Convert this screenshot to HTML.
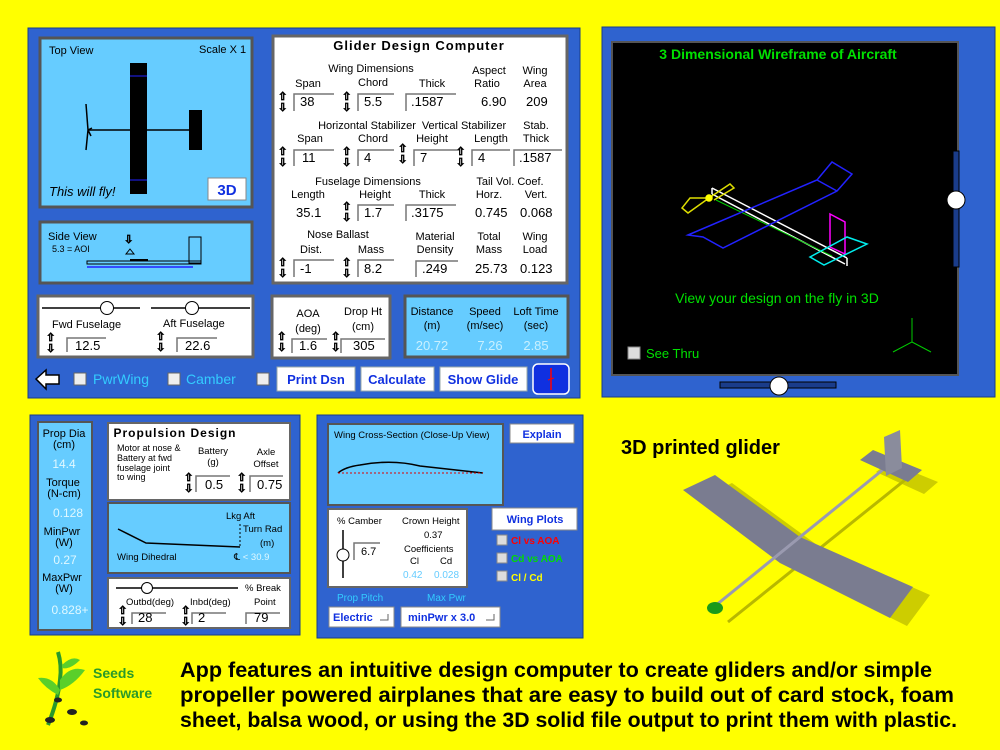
<!DOCTYPE html>
<html><head><meta charset="utf-8"><style>
html,body{margin:0;padding:0;background:#ffff00;}
svg{display:block;font-family:"Liberation Sans",sans-serif;}
.s{font-size:11px;fill:#000}
.v{font-size:13px;fill:#000}
.w{font-size:13px;fill:#c8f0ff}
.ar{font-family:"DejaVu Sans",sans-serif;font-size:11px;fill:#fff;stroke:#000;stroke-width:0.8}
.btn{fill:#fff;stroke:#9aa;stroke-width:1}
.bt{font-size:13px;font-weight:bold;fill:#1030e0}
</style></head><body>
<svg width="1000" height="750" viewBox="0 0 1000 750">
<defs>
<g id="ud"><text class="ar" x="0" y="0">⇧</text><text class="ar" x="0" y="11">⇩</text></g>
</defs>
<rect width="1000" height="750" fill="#ffff00"/>

<!-- MAIN PANEL -->
<rect x="28" y="28" width="552" height="370" fill="#2f63cf" stroke="#1a3c8a"/>
<rect x="40" y="38" width="212" height="169" fill="#66ccff" stroke="#555" stroke-width="3"/>
<text class="s" x="49" y="54">Top View</text>
<text class="s" x="199" y="53">Scale X 1</text>
<rect x="130" y="63" width="17" height="131" fill="#000"/>
<line x1="130" y1="76" x2="147" y2="76" stroke="#22f"/><line x1="130" y1="180" x2="147" y2="180" stroke="#22f"/>
<line x1="89" y1="130" x2="190" y2="130" stroke="#000" stroke-width="1.5"/>
<rect x="189" y="110" width="13" height="40" fill="#000"/>
<path d="M86 104 L88 130 L86 150 M88 130 L92 128 M88 130 L91 136" stroke="#000" fill="none" stroke-width="1.5"/>
<text x="49" y="196" style="font-size:13px;font-style:italic">This will fly!</text>
<rect x="208" y="178" width="38" height="22" fill="#fff" stroke="#888"/>
<text x="227" y="195" text-anchor="middle" style="font-size:15px;font-weight:bold;fill:#1030e0">3D</text>
<rect x="40" y="222" width="212" height="61" fill="#66ccff" stroke="#555" stroke-width="3"/>
<text class="s" x="48" y="240">Side View</text>
<text x="52" y="252" style="font-size:9px">5.3 = AOI</text>
<text x="124" y="243" class="ar">⇩</text>
<path d="M130 249 L134 254 L126 254Z" fill="none" stroke="#000"/>
<rect x="189" y="237" width="12" height="26" fill="none" stroke="#000"/>
<rect x="87" y="261" width="114" height="3" fill="none" stroke="#000"/>
<line x1="130" y1="260" x2="148" y2="260" stroke="#000" stroke-width="2"/>
<line x1="87" y1="267" x2="193" y2="267" stroke="#22f" stroke-width="1.5"/>
<!-- glider computer -->
<rect x="273" y="36" width="294" height="247" fill="#fff" stroke="#666" stroke-width="3"/>
<text x="419" y="50" text-anchor="middle" style="font-size:13px;font-weight:bold;letter-spacing:1px">Glider Design Computer</text>
<g class="s" text-anchor="middle">
<text x="371" y="72">Wing Dimensions</text><text x="489" y="74">Aspect</text><text x="535" y="74">Wing</text>
<text x="308" y="87">Span</text><text x="373" y="86">Chord</text><text x="432" y="87">Thick</text><text x="487" y="87">Ratio</text><text x="535" y="87">Area</text>
<text x="367" y="129">Horizontal Stabilizer</text><text x="464" y="129">Vertical Stabilizer</text><text x="536" y="129">Stab.</text>
<text x="310" y="142">Span</text><text x="373" y="142">Chord</text><text x="432" y="142">Height</text><text x="491" y="142">Length</text><text x="536" y="142">Thick</text>
<text x="368" y="185">Fuselage Dimensions</text><text x="510" y="185">Tail Vol. Coef.</text>
<text x="308" y="198">Length</text><text x="375" y="198">Height</text><text x="432" y="198">Thick</text><text x="489" y="198">Horz.</text><text x="536" y="198">Vert.</text>
<text x="338" y="238">Nose Ballast</text><text x="435" y="240">Material</text><text x="489" y="240">Total</text><text x="535" y="240">Wing</text>
<text x="311" y="253">Dist.</text><text x="371" y="253">Mass</text><text x="435" y="253">Density</text><text x="489" y="253">Mass</text><text x="535" y="253">Load</text>
</g>
<g fill="none" stroke="#777" stroke-width="1.5">
<path d="M294 111V94H334"/><path d="M358 111V94H394"/><path d="M406 111V94H456"/>
<path d="M294 166V150H334"/><path d="M358 166V150H394"/><path d="M414 166V150H460"/><path d="M472 166V150H510"/><path d="M514 166V150H562"/>
<path d="M358 221V205H394"/><path d="M406 221V205H456"/>
<path d="M294 277V260H334"/><path d="M358 277V260H394"/><path d="M416 277V261H458"/>
</g>
<use href="#ud" x="278" y="100"/><use href="#ud" x="342" y="100"/>
<use href="#ud" x="278" y="155"/><use href="#ud" x="342" y="155"/><use href="#ud" x="398" y="152"/><use href="#ud" x="456" y="155"/>
<use href="#ud" x="342" y="210"/>
<use href="#ud" x="278" y="266"/><use href="#ud" x="342" y="266"/>
<g class="v">
<text x="300" y="106">38</text><text x="364" y="106">5.5</text><text x="411" y="106">.1587</text><text x="481" y="106">6.90</text><text x="526" y="106">209</text>
<text x="302" y="162">11</text><text x="364" y="162">4</text><text x="420" y="162">7</text><text x="478" y="162">4</text><text x="519" y="162">.1587</text>
<text x="296" y="217">35.1</text><text x="364" y="217">1.7</text><text x="411" y="217">.3175</text><text x="475" y="217">0.745</text><text x="520" y="217">0.068</text>
<text x="300" y="273">-1</text><text x="364" y="273">8.2</text><text x="422" y="273">.249</text><text x="475" y="273">25.73</text><text x="520" y="273">0.123</text>
</g>
<!-- sliders panel -->
<rect x="38" y="296" width="215" height="61" fill="#fff" stroke="#666" stroke-width="3"/>
<line x1="42" y1="308" x2="140" y2="308" stroke="#000" stroke-width="1.5"/><line x1="151" y1="308" x2="250" y2="308" stroke="#000" stroke-width="1.5"/>
<circle cx="107" cy="308" r="6.5" fill="#fff" stroke="#000"/><circle cx="192" cy="308" r="6.5" fill="#fff" stroke="#000"/>
<text class="s" x="52" y="328">Fwd Fuselage</text><text class="s" x="163" y="327">Aft Fuselage</text>
<path d="M67 352V338H106M177 352V338H217" fill="none" stroke="#777" stroke-width="1.5"/>
<use href="#ud" x="46" y="341"/><use href="#ud" x="156" y="340"/>
<text class="v" x="75" y="350">12.5</text><text class="v" x="185" y="350">22.6</text>
<rect x="272" y="296" width="118" height="62" fill="#fff" stroke="#666" stroke-width="3"/>
<g class="s" text-anchor="middle"><text x="308" y="317">AOA</text><text x="308" y="332">(deg)</text><text x="363" y="315">Drop Ht</text><text x="363" y="330">(cm)</text></g>
<path d="M292 353V339H327M341 353V339H385" fill="none" stroke="#777" stroke-width="1.5"/>
<use href="#ud" x="277" y="340"/><use href="#ud" x="331" y="340"/>
<text class="v" x="299" y="350">1.6</text><text class="v" x="353" y="350">305</text>
<rect x="405" y="296" width="163" height="61" fill="#66ccff" stroke="#555" stroke-width="3"/>
<g class="s" text-anchor="middle"><text x="432" y="315">Distance</text><text x="432" y="329">(m)</text><text x="485" y="315">Speed</text><text x="485" y="329">(m/sec)</text><text x="536" y="315">Loft Time</text><text x="536" y="329">(sec)</text></g>
<g class="w" text-anchor="middle"><text x="432" y="350">20.72</text><text x="490" y="350">7.26</text><text x="536" y="350">2.85</text></g>
<path d="M36 379 L46 370 V375 H59 V384 H46 V389 Z" fill="#fff" stroke="#000" stroke-width="1.5"/>
<rect x="74" y="373" width="12" height="12" fill="#eee" stroke="#666"/><text x="93" y="384" style="font-size:14px;fill:#33ccff">PwrWing</text>
<rect x="168" y="373" width="12" height="12" fill="#eee" stroke="#666"/><text x="186" y="384" style="font-size:14px;fill:#33ccff">Camber</text>
<rect x="257" y="373" width="12" height="12" fill="#eee" stroke="#666"/>
<rect x="277" y="367" width="78" height="24" class="btn"/><text class="bt" x="316" y="384" text-anchor="middle">Print Dsn</text>
<rect x="361" y="367" width="73" height="24" class="btn"/><text class="bt" x="397" y="384" text-anchor="middle">Calculate</text>
<rect x="440" y="367" width="87" height="24" class="btn"/><text class="bt" x="483" y="384" text-anchor="middle">Show Glide</text>
<rect x="533" y="364" width="36" height="30" rx="5" fill="#1030e0" stroke="#fff" stroke-width="1.5"/>
<line x1="551" y1="368" x2="551" y2="390" stroke="#f00" stroke-width="1.5"/><line x1="548" y1="380" x2="554" y2="378" stroke="#f00"/>

<!-- 3D PANEL -->
<rect x="602" y="27" width="393" height="370" fill="#2f63cf" stroke="#1a3c8a"/>
<rect x="612" y="42" width="346" height="333" fill="#000" stroke="#555" stroke-width="2"/>
<text x="778" y="59" text-anchor="middle" style="font-size:14px;font-weight:bold;fill:#00e000">3 Dimensional Wireframe of Aircraft</text>
<rect x="953" y="151" width="6" height="116" fill="#1a3c8a" stroke="#000"/>
<circle cx="956" cy="200" r="9" fill="#fff" stroke="#000"/>
<rect x="720" y="382" width="116" height="6" fill="#1a3c8a" stroke="#000"/>
<circle cx="779" cy="386" r="9" fill="#fff" stroke="#000"/>
<g fill="none" stroke-width="1.5">
<path d="M712 188 L847 258 M712 194 L845 264 M712 188 V194 M847 258 V266" stroke="#fff"/>
<path d="M716 200 L832 256" stroke="#0c0" stroke-width="1"/>
<path d="M709 198 L690 198 L682 208 L688 213 Z M709 198 L730 184 L734 188 L714 200" stroke="#dd0"/>
<circle cx="709" cy="198" r="3" fill="#ff0" stroke="#ff0"/>
<path d="M688 235 L817 180 L832 162 L852 174 L837 191 L723 248 L703 237 Z M703 237 L688 235 M817 180 L837 191" stroke="#22f"/>
<path d="M830 214 L845 222 V254 L830 247 Z" stroke="#f0f"/>
<path d="M810 257 L847 237 L867 244 L824 265 Z" stroke="#0ee"/>
</g>
<text x="777" y="303" text-anchor="middle" style="font-size:14px;fill:#00e000">View your design on the fly in 3D</text>
<rect x="628" y="347" width="12" height="12" fill="#ddd" stroke="#888"/>
<text x="646" y="358" style="font-size:13px;fill:#00e000">See Thru</text>
<path d="M912 318 V342 L893 352 M912 342 L931 352" stroke="#0c0" fill="none"/>

<!-- BOTTOM LEFT PANEL -->
<rect x="30" y="415" width="270" height="220" fill="#2f63cf" stroke="#1a3c8a"/>
<rect x="38" y="422" width="54" height="208" fill="#66ccff" stroke="#555" stroke-width="2"/>
<g style="font-size:11px" text-anchor="middle">
<text x="64" y="437">Prop Dia</text><text x="64" y="448">(cm)</text>
<text x="64" y="468" style="font-size:12px;fill:#e0f8ff">14.4</text>
<text x="63" y="486">Torque</text><text x="64" y="497">(N-cm)</text>
<text x="68" y="517" style="font-size:12px;fill:#e0f8ff">0.128</text>
<text x="62" y="535">MinPwr</text><text x="64" y="546">(W)</text>
<text x="65" y="564" style="font-size:12px;fill:#e0f8ff">0.27</text>
<text x="62" y="581">MaxPwr</text><text x="64" y="592">(W)</text>
<text x="70" y="614" style="font-size:12px;fill:#e0f8ff">0.828+</text>
</g>
<rect x="108" y="423" width="182" height="77" fill="#fff" stroke="#666" stroke-width="2"/>
<text x="175" y="437" text-anchor="middle" style="font-size:12px;font-weight:bold;letter-spacing:1px">Propulsion Design</text>
<g style="font-size:9px"><text x="117" y="451">Motor at nose &amp;</text><text x="117" y="461">Battery at fwd</text><text x="117" y="471">fuselage joint</text><text x="117" y="480">to wing</text></g>
<g style="font-size:9.5px" text-anchor="middle"><text x="213" y="454">Battery</text><text x="213" y="465">(g)</text><text x="266" y="455">Axle</text><text x="266" y="467">Offset</text></g>
<path d="M196 492V476H230M250 492V476H283" fill="none" stroke="#777" stroke-width="1.5"/>
<use href="#ud" x="184" y="481"/><use href="#ud" x="237" y="481"/>
<text class="v" x="205" y="489">0.5</text><text class="v" x="257" y="489">0.75</text>
<rect x="108" y="503" width="182" height="70" fill="#66ccff" stroke="#555" stroke-width="2"/>
<path d="M118 529 L146 543 L240 547" fill="none" stroke="#000" stroke-width="1.5"/>
<line x1="240" y1="524" x2="240" y2="547" stroke="#000" stroke-dasharray="2,2"/>
<g style="font-size:9.5px"><text x="226" y="519">Lkg Aft</text><text x="243" y="532">Turn Rad</text><text x="260" y="546">(m)</text><text x="117" y="560">Wing Dihedral</text><text x="234" y="560">℄ <tspan style="fill:#e0f8ff">&lt; 30.9</tspan></text></g>
<rect x="108" y="578" width="182" height="50" fill="#fff" stroke="#666" stroke-width="2"/>
<line x1="116" y1="588" x2="238" y2="588" stroke="#000" stroke-width="1.5"/><circle cx="147" cy="588" r="5.5" fill="#fff" stroke="#000"/>
<g style="font-size:9.5px"><text x="245" y="591">% Break</text><text x="126" y="605">Outbd(deg)</text><text x="190" y="605">Inbd(deg)</text><text x="254" y="605">Point</text></g>
<path d="M132 624V613H166M192 624V613H226M246 624V613H280" fill="none" stroke="#777" stroke-width="1.5"/>
<use href="#ud" x="118" y="614"/><use href="#ud" x="181" y="614"/>
<text class="v" x="138" y="622">28</text><text class="v" x="198" y="622">2</text><text class="v" x="254" y="622">79</text>

<!-- MIDDLE PANEL -->
<rect x="317" y="415" width="266" height="223" fill="#2f63cf" stroke="#1a3c8a"/>
<rect x="328" y="424" width="175" height="81" fill="#66ccff" stroke="#555" stroke-width="2"/>
<text x="334" y="438" style="font-size:9.5px">Wing Cross-Section (Close-Up View)</text>
<path d="M338 473 Q345 467 360 465 Q392 459 420 466 Q455 470 483 473" fill="none" stroke="#000" stroke-width="1.5"/>
<line x1="338" y1="473" x2="483" y2="473" stroke="#d00" stroke-dasharray="2,2"/>
<rect x="510" y="424" width="64" height="19" fill="#fff" stroke="#888"/>
<text x="542" y="438" text-anchor="middle" style="font-size:11px;font-weight:bold;fill:#1030e0">Explain</text>
<rect x="328" y="509" width="139" height="78" fill="#fff" stroke="#666" stroke-width="2"/>
<g style="font-size:9.5px"><text x="337" y="524">% Camber</text><text x="402" y="524">Crown Height</text><text x="424" y="538">0.37</text><text x="404" y="552">Coefficients</text><text x="410" y="564">Cl</text><text x="440" y="564">Cd</text></g>
<text x="403" y="578" style="font-size:10px;fill:#66ccff">0.42</text><text x="434" y="578" style="font-size:10px;fill:#66ccff">0.028</text>
<line x1="343" y1="530" x2="343" y2="578" stroke="#000" stroke-width="1.5"/><circle cx="343" cy="555" r="6" fill="#fff" stroke="#000"/>
<path d="M354 560V543H380" fill="none" stroke="#777" stroke-width="1.5"/>
<text x="361" y="555" style="font-size:11px">6.7</text>
<rect x="492" y="508" width="85" height="22" fill="#fff" stroke="#888"/>
<text x="535" y="523" text-anchor="middle" style="font-size:11px;font-weight:bold;fill:#1030e0">Wing Plots</text>
<g style="font-size:10px;font-weight:bold">
<rect x="497" y="535" width="10" height="10" fill="#ddd" stroke="#888"/><text x="511" y="544" fill="#f00">Cl vs AOA</text>
<rect x="497" y="553" width="10" height="10" fill="#ddd" stroke="#888"/><text x="511" y="562" fill="#0d0">Cd vs AOA</text>
<rect x="497" y="571" width="10" height="10" fill="#ddd" stroke="#888"/><text x="511" y="581" fill="#ff0">Cl / Cd</text>
</g>
<text x="337" y="601" style="font-size:10px;fill:#33ccff">Prop Pitch</text><text x="427" y="601" style="font-size:10px;fill:#33ccff">Max Pwr</text>
<rect x="329" y="607" width="65" height="20" fill="#fff" stroke="#888"/><text x="333" y="621" style="font-size:11px;font-weight:bold;fill:#1030e0">Electric</text>
<path d="M380 620H388V614" fill="none" stroke="#666"/>
<rect x="401" y="607" width="99" height="20" fill="#fff" stroke="#888"/><text x="408" y="621" style="font-size:11px;font-weight:bold;fill:#1030e0">minPwr x 3.0</text>
<path d="M486 620H494V614" fill="none" stroke="#666"/>

<!-- 3D printed glider -->
<text x="621" y="454" style="font-size:20px;font-weight:bold">3D printed glider</text>
<g>
<path d="M700 498 L732 483 L817 545 L930 595 L907 626 L797 571 Z" fill="#b8b800" opacity="0.7"/>
<line x1="728" y1="622" x2="905" y2="480" stroke="#b8b800" stroke-width="3"/>
<path d="M876 472 L889 462 L938 482 L924 494 Z" fill="#b8b800" opacity="0.7"/>
<path d="M683 490 L715 475 L800 537 L913 587 L890 618 L780 563 Z" fill="#7a7c90"/>
<line x1="715" y1="606" x2="885" y2="468" stroke="#9a9ab0" stroke-width="3"/>
<path d="M860 460 L873 450 L922 470 L908 482 Z" fill="#7a7c90"/>
<path d="M884 437 L900 430 L902 468 L886 476 Z" fill="#8a8c9c"/>
<ellipse cx="715" cy="608" rx="8" ry="6" fill="#1a9a1a"/>
</g>

<!-- LOGO -->
<g>
<path d="M48 725 Q58 700 60 680 Q62 665 58 652" stroke="#2a9a2a" stroke-width="4" fill="none"/>
<path d="M60 680 Q70 665 85 670 Q74 685 60 690Z" fill="#5acf2a"/>
<path d="M58 695 Q45 688 38 678 Q52 676 60 690Z" fill="#5acf2a"/>
<path d="M62 665 Q72 655 80 660 Q70 670 62 668Z" fill="#5acf2a"/>
<ellipse cx="58" cy="700" rx="4" ry="2.5" fill="#222"/><ellipse cx="72" cy="712" rx="5" ry="3" fill="#222"/><ellipse cx="50" cy="720" rx="5" ry="3" fill="#222"/><ellipse cx="84" cy="723" rx="4" ry="2.5" fill="#222"/>
<text x="93" y="678" style="font-size:14px;font-weight:bold;fill:#2a9a2a">Seeds</text>
<text x="93" y="698" style="font-size:14px;font-weight:bold;fill:#2a9a2a">Software</text>
</g>
<g style="font-size:21px;font-weight:bold">
<text x="180" y="677" textLength="752" lengthAdjust="spacingAndGlyphs">App features an intuitive design computer to create gliders and/or simple</text>
<text x="180" y="702" textLength="774" lengthAdjust="spacingAndGlyphs">propeller powered airplanes that are easy to build out of card stock, foam</text>
<text x="180" y="727" textLength="777" lengthAdjust="spacingAndGlyphs">sheet, balsa wood, or using the 3D solid file output to print them with plastic.</text>
</g>
</svg>
</body></html>
